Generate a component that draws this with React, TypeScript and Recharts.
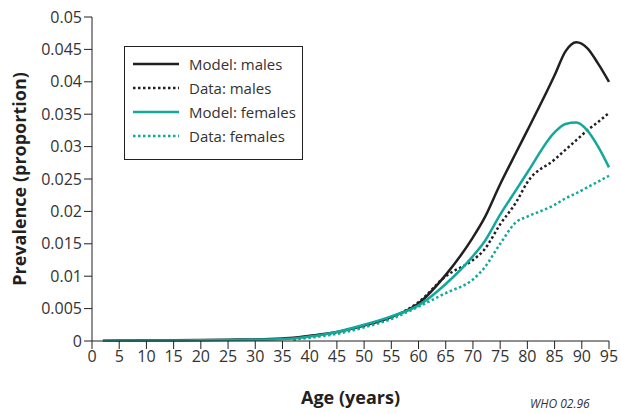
import { Line, LineChart, XAxis, YAxis, Label } from "recharts"

const AGES = [2, 5, 10, 15, 20, 25, 30, 35, 37, 40, 45, 50, 55, 60, 65, 70, 72, 75, 78, 80, 85, 87, 89, 91, 93, 95]

const MODEL_MALES = [
    0.00005, 0.00006, 0.0001, 0.00012, 0.00015, 0.0002, 0.00025, 0.0004, 0.0005, 0.0008, 0.0014, 0.0024, 0.0037,
    0.0058, 0.0102, 0.016, 0.0188, 0.0242, 0.0292, 0.0325, 0.041, 0.0447, 0.0461, 0.0452, 0.0428, 0.04,
]
const DATA_MALES = [
    null, null, null, null, null, null, null, null, 0.0003, 0.0007, 0.0013, 0.0023, 0.0036,
    0.006, 0.01, 0.0125, 0.014, 0.018, 0.0215, 0.0245, 0.028, 0.0295, 0.031, 0.0325, 0.0338, 0.0352,
]
const MODEL_FEMALES = [
    0.00003, 0.00004, 0.00006, 0.00008, 0.0001, 0.00014, 0.0002, 0.0003, 0.0004, 0.0007, 0.0014, 0.0025, 0.0038,
    0.0055, 0.0088, 0.0131, 0.0152, 0.0195, 0.0234, 0.026, 0.0322, 0.0335, 0.0337, 0.0325, 0.03, 0.0268,
]
const DATA_FEMALES = [
    null, null, null, null, null, null, null, null, 0.0002, 0.0005, 0.0011, 0.0021, 0.0034,
    0.0053, 0.0074, 0.0095, 0.0112, 0.015, 0.0184, 0.0192, 0.021, 0.022, 0.0228, 0.0237, 0.0246, 0.0255,
]

const X_TICKS = [0, 5, 10, 15, 20, 25, 30, 35, 40, 45, 50, 55, 60, 65, 70, 75, 80, 85, 90, 95]
const Y_TICKS = [0, 0.005, 0.01, 0.015, 0.02, 0.025, 0.03, 0.035, 0.04, 0.045, 0.05]

const BLACK = "#231f20"
const TEAL = "#12a89b"
const FONT = "'Open Sans', sans-serif"

const rows = AGES.map((age, i) => ({
    age,
    modelMales: MODEL_MALES[i],
    dataMales: DATA_MALES[i],
    modelFemales: MODEL_FEMALES[i],
    dataFemales: DATA_FEMALES[i],
}))

const LEGEND_ITEMS = [
    { name: "Model: males", color: BLACK, dash: undefined },
    { name: "Data: males", color: BLACK, dash: "2.5 2.5" },
    { name: "Model: females", color: TEAL, dash: undefined },
    { name: "Data: females", color: TEAL, dash: "2.5 2.5" },
]

function LegendBox() {
    return (
        <div
            style={{
                position: "absolute",
                left: 124,
                top: 46,
                border: `1px solid ${BLACK}`,
                width: 179,
                height: 114,
                boxSizing: "border-box",
                padding: "5px 0 0 8px",
                fontFamily: FONT,
                fontSize: 15,
                color: "#333",
                background: "#fff",
            }}
        >
            {LEGEND_ITEMS.map((item) => (
                <div key={item.name} style={{ display: "flex", alignItems: "center", height: 24 }}>
                    <svg width={48} height={6} style={{ marginRight: 8 }}>
                        <line
                            x1={0}
                            y1={3}
                            x2={46}
                            y2={3}
                            stroke={item.color}
                            strokeWidth={2.5}
                            strokeDasharray={item.dash}
                        />
                    </svg>
                    <span>{item.name}</span>
                </div>
            ))}
        </div>
    )
}

export default function App() {
    return (
        <div style={{ position: "absolute", left: 0, top: 0, width: 621, height: 414, background: "#fff" }}>
            <LineChart width={621} height={414} data={rows} margin={{ top: 17, right: 12, left: 0, bottom: 43 }}>
                <XAxis
                    dataKey="age"
                    type="number"
                    domain={[0, 95]}
                    ticks={X_TICKS}
                    interval={0}
                    height={30}
                    tickSize={8}
                    stroke={BLACK}
                    tick={{ fill: "#333", fontSize: 16, fontFamily: FONT }}
                >
                    <Label
                        value="Age (years)"
                        position="bottom"
                        offset={20}
                        style={{ fontFamily: FONT, fontSize: 18, fontWeight: 700, fill: BLACK }}
                    />
                </XAxis>
                <YAxis
                    type="number"
                    domain={[0, 0.05]}
                    ticks={Y_TICKS}
                    interval={0}
                    width={92}
                    tickSize={8}
                    stroke={BLACK}
                    tick={{ fill: "#333", fontSize: 16, fontFamily: FONT }}
                >
                    <Label
                        value="Prevalence (proportion)"
                        angle={-90}
                        position="insideLeft"
                        offset={20}
                        style={{ textAnchor: "middle", fontFamily: FONT, fontSize: 18, fontWeight: 700, fill: BLACK }}
                    />
                </YAxis>
                <Line type="monotone" dataKey="modelMales" stroke={BLACK} strokeWidth={2.5} dot={false} isAnimationActive={false} />
                <Line type="monotone" dataKey="dataMales" stroke={BLACK} strokeWidth={2.5} strokeDasharray="2.5 2.5" dot={false} isAnimationActive={false} />
                <Line type="monotone" dataKey="modelFemales" stroke={TEAL} strokeWidth={2.5} dot={false} isAnimationActive={false} />
                <Line type="monotone" dataKey="dataFemales" stroke={TEAL} strokeWidth={2.5} strokeDasharray="2.5 2.5" dot={false} isAnimationActive={false} />
            </LineChart>
            <LegendBox />
            <div
                style={{
                    position: "absolute",
                    left: 530,
                    top: 395,
                    fontFamily: FONT,
                    fontSize: 12,
                    fontStyle: "italic",
                    color: "#333",
                }}
            >
                WHO 02.96
            </div>
        </div>
    )
}
